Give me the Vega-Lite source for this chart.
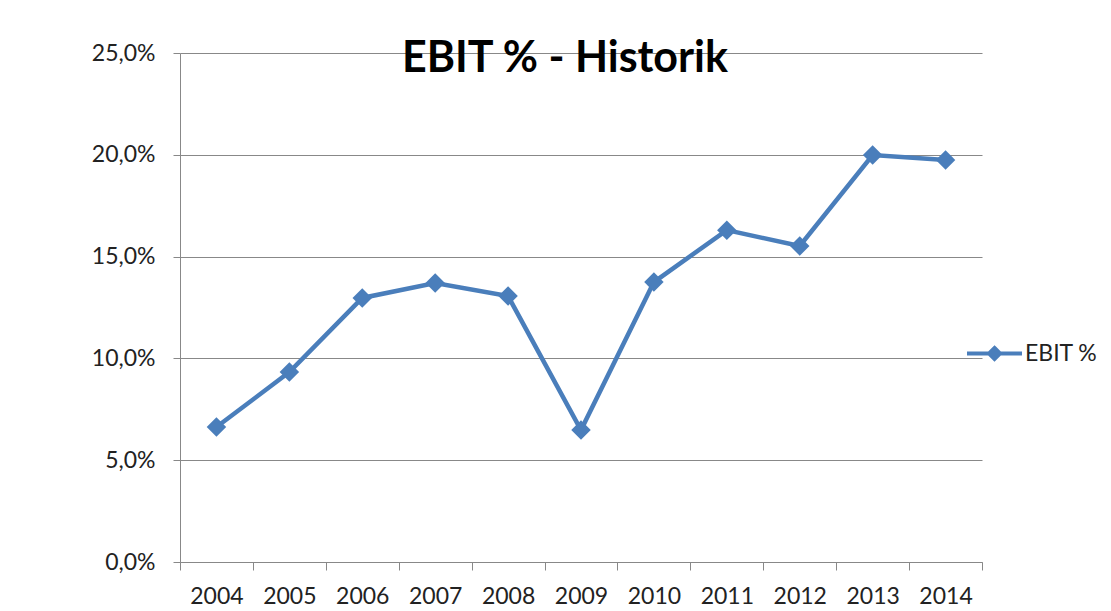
{
  "$schema": "https://vega.github.io/schema/vega-lite/v6.json",
  "width": 802,
  "height": 509,
  "autosize": {"type": "none"},
  "padding": {"left": 180, "top": 53, "right": 129, "bottom": 49},
  "background": "white",
  "title": {
    "text": "EBIT % - Historik",
    "font": "Lato",
    "fontSize": 43,
    "fontWeight": "bold",
    "color": "#000000",
    "anchor": "middle",
    "baseline": "alphabetic",
    "offset": 0,
    "dx": -16,
    "dy": 73
  },
  "data": {
    "values": [
      {"year": "2004", "series": "EBIT %", "value": 0.0663},
      {"year": "2005", "series": "EBIT %", "value": 0.0933},
      {"year": "2006", "series": "EBIT %", "value": 0.1297},
      {"year": "2007", "series": "EBIT %", "value": 0.1370},
      {"year": "2008", "series": "EBIT %", "value": 0.1306},
      {"year": "2009", "series": "EBIT %", "value": 0.0648},
      {"year": "2010", "series": "EBIT %", "value": 0.1375},
      {"year": "2011", "series": "EBIT %", "value": 0.1630},
      {"year": "2012", "series": "EBIT %", "value": 0.1552},
      {"year": "2013", "series": "EBIT %", "value": 0.1999},
      {"year": "2014", "series": "EBIT %", "value": 0.1974}
    ]
  },
  "encoding": {
    "x": {
      "field": "year",
      "type": "ordinal",
      "bandPosition": 0.5,
      "scale": {"type": "band", "paddingInner": 0, "paddingOuter": 0},
      "axis": {
        "title": null,
        "labelAngle": 0,
        "tickBand": "extent",
        "grid": false,
        "domainColor": "#888888",
        "tickColor": "#888888",
        "tickSize": 8,
        "labelPadding": 15,
        "labelFont": "Lato",
        "labelFontSize": 23,
        "labelColor": "#222222",
        "labelBaseline": "top"
      }
    },
    "y": {
      "field": "value",
      "type": "quantitative",
      "scale": {"domain": [0, 0.25], "nice": false},
      "axis": {
        "title": null,
        "values": [0, 0.05, 0.1, 0.15, 0.2, 0.25],
        "labelExpr": "replace(format(datum.value, '.1%'), '.', ',')",
        "grid": true,
        "gridColor": "#888888",
        "gridWidth": 1,
        "domain": true,
        "domainColor": "#888888",
        "tickColor": "#888888",
        "tickSize": 7,
        "labelPadding": 18,
        "labelFont": "Lato",
        "labelFontSize": 23,
        "labelColor": "#222222"
      }
    },
    "color": {
      "field": "series",
      "type": "nominal",
      "scale": {"range": ["#4A7EBB"]},
      "legend": {
        "title": null,
        "orient": "none",
        "legendX": 785,
        "legendY": 271,
        "padding": 0,
        "symbolType": "M-1,0H1M0,-0.2L0.2,0L0,0.2L-0.2,0Z",
        "symbolSize": 3025,
        "symbolStrokeWidth": 4,
        "symbolFillColor": "#4A7EBB",
        "symbolStrokeColor": "#4A7EBB",
        "labelFont": "Lato",
        "labelFontSize": 23,
        "labelColor": "#222222",
        "labelOffset": 1
      }
    }
  },
  "layer": [
    {"mark": {"type": "line", "strokeWidth": 4.5}},
    {"mark": {"type": "point", "shape": "diamond", "filled": true, "size": 380, "opacity": 1}}
  ],
  "config": {"view": {"stroke": null}}
}
